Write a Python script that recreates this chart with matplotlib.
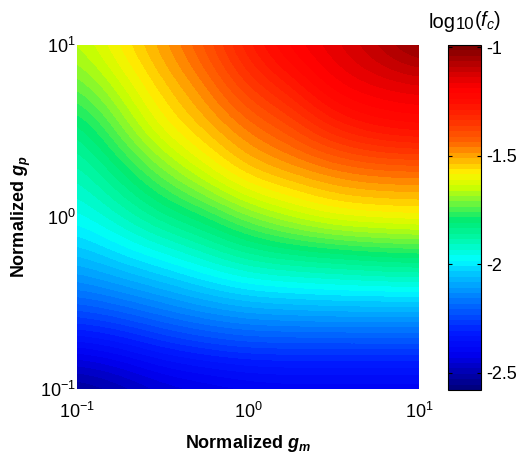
import numpy as np
import matplotlib
matplotlib.use("Agg")
import matplotlib.pyplot as plt
from matplotlib.colors import LinearSegmentedColormap

plt.rcParams['font.family'] = ['Liberation Sans', 'DejaVu Sans']
plt.rcParams['mathtext.fontset'] = 'custom'
plt.rcParams['mathtext.rm'] = 'Liberation Sans'
plt.rcParams['mathtext.it'] = 'Liberation Sans:italic'
plt.rcParams['mathtext.bf'] = 'Liberation Sans:bold'
plt.rcParams['mathtext.bfit'] = 'Liberation Sans:bold:italic'

# log10 of normalized g_m (columns) and g_p (rows)
log_gm = [-1.0, -0.75, -0.5, -0.25, 0.0, 0.25, 0.5, 0.75, 1.0]
log_gp = [-1.0, -0.75, -0.5, -0.25, 0.0, 0.25, 0.5, 0.75, 1.0]

# log10(f_c), one row per g_p value (bottom to top)
log_fc = [
    [-2.56, -2.52, -2.47, -2.45, -2.43, -2.42, -2.42, -2.42, -2.42],
    [-2.38, -2.35, -2.30, -2.27, -2.25, -2.25, -2.25, -2.25, -2.25],
    [-2.20, -2.17, -2.13, -2.09, -2.06, -2.05, -2.04, -2.04, -2.04],
    [-2.07, -2.02, -1.98, -1.93, -1.88, -1.86, -1.85, -1.83, -1.82],
    [-1.97, -1.91, -1.84, -1.79, -1.71, -1.65, -1.60, -1.59, -1.58],
    [-1.91, -1.82, -1.72, -1.63, -1.54, -1.51, -1.48, -1.46, -1.46],
    [-1.84, -1.72, -1.60, -1.53, -1.46, -1.40, -1.31, -1.26, -1.24],
    [-1.74, -1.645, -1.545, -1.47, -1.36, -1.29, -1.19, -1.16, -1.15],
    [-1.66, -1.575, -1.49, -1.40, -1.28, -1.19, -1.14, -1.08, -1.00],
]

cb_ticks = [-2.5, -2, -1.5, -1]
cb_min, cb_max = -2.58, -0.99

# jet-like colours as they appear on the original colour bar
cmap_pos = [0.0, 0.10, 0.16, 0.24, 0.34, 0.375, 0.44, 0.49, 0.55, 0.59,
            0.63, 0.68, 0.72, 0.78, 0.84, 0.88, 0.92, 1.0]
cmap_col = [(0, 0, 0.5), (0, 0, 0.95), (0, 0.1, 1), (0, 0.4, 1), (0, 0.8, 1),
            (0, 1, 1), (0, 0.97, 0.65), (0, 0.92, 0.45), (0.5, 0.97, 0.2),
            (0.8, 1, 0), (1, 0.95, 0), (1, 0.65, 0), (1, 0.4, 0), (1, 0.2, 0),
            (1, 0.05, 0), (1, 0, 0), (0.85, 0, 0), (0.5, 0, 0)]
cmap = LinearSegmentedColormap.from_list('jetish', list(zip(cmap_pos, cmap_col)), N=64)

fig = plt.figure(figsize=(5.21, 4.54), dpi=100)
ax = fig.add_axes([0.148, 0.143, 0.656, 0.758])
cax = fig.add_axes([0.859, 0.141, 0.064, 0.760])

half = (log_gm[1] - log_gm[0]) / 2
im = ax.imshow(np.array(log_fc), origin='lower', cmap=cmap,
               vmin=cb_min, vmax=cb_max, interpolation='bicubic', aspect='auto',
               extent=[log_gm[0] - half, log_gm[-1] + half,
                       log_gp[0] - half, log_gp[-1] + half])
ax.set_xlim(-1, 1)
ax.set_ylim(-1, 1)
for s in ax.spines.values():
    s.set_visible(False)
ax.set_xticks([-1, 0, 1])
ax.set_yticks([-1, 0, 1])
ax.set_xticklabels(['$10^{-1}$', '$10^{0}$', '$10^{1}$'])
ax.set_yticklabels(['$10^{-1}$', '$10^{0}$', '$10^{1}$'])
ax.tick_params(length=0, labelsize=13)
ax.tick_params(axis='x', pad=9)
ax.tick_params(axis='y', pad=1)
ax.set_xlabel(r'Normalized $\mathbfit{g}_{\mathbfit{m}}$', fontsize=13,
              fontweight='bold')
ax.set_ylabel(r'Normalized $\mathbfit{g}_{\mathbfit{p}}$', fontsize=13,
              fontweight='bold')
ax.xaxis.set_label_coords(0.5, -0.128)
ax.yaxis.set_label_coords(-0.128, 0.5)

cb = fig.colorbar(im, cax=cax, ticks=cb_ticks)
cb.ax.set_yticklabels(['-2.5', '-2', '-1.5', '-1'])
cb.ax.tick_params(labelsize=13, direction='in', length=3, left=True, right=True,
                  width=0.8, pad=4)
cb.outline.set_linewidth(0.8)

# colorbar title: log, then a large subscript 10, then (f_c)
t_log = fig.text(0.822, 0.938, 'log', fontsize=14.5, va='baseline', ha='left')
t_10 = cax.annotate('10', xy=(1, 0), xycoords=t_log, fontsize=12,
                    va='bottom', ha='left', annotation_clip=False)
cax.annotate('($f_c$)', xy=(1, 0), xycoords=(t_10, t_log), fontsize=14.5,
             va='bottom', ha='left', annotation_clip=False)

fig.savefig('out.png', dpi=100)
